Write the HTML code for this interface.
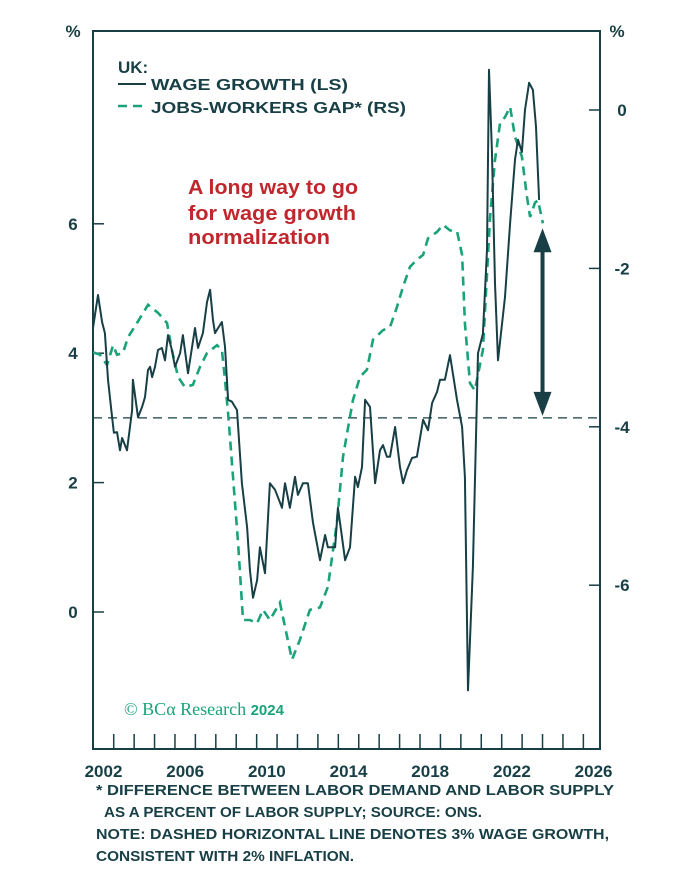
<!DOCTYPE html>
<html><head><meta charset="utf-8"><style>
html,body{margin:0;padding:0;background:#fff;}
svg{display:block;font-family:"Liberation Sans",sans-serif;}
</style></head><body>
<svg id="chart" width="688" height="869" viewBox="0 0 688 869" xmlns="http://www.w3.org/2000/svg">
<g id="axes"></g>
<g id="series"></g>
<g fill="#173f45" font-weight="bold">
 <text x="118" y="73" font-size="17">UK:</text>
 <line x1="118" y1="84" x2="146" y2="84" stroke="#173f45" stroke-width="2"/>
 <text x="151" y="90" font-size="16" textLength="197" lengthAdjust="spacingAndGlyphs">WAGE GROWTH (LS)</text>
 <line x1="118" y1="106" x2="146" y2="106" stroke="#1aa37a" stroke-width="2.5" stroke-dasharray="9,6"/>
 <text x="151" y="113" font-size="16" textLength="255" lengthAdjust="spacingAndGlyphs">JOBS-WORKERS GAP* (RS)</text>
</g>
<g fill="#c0272d" font-size="20" font-weight="bold">
 <text x="188" y="194" textLength="170" lengthAdjust="spacingAndGlyphs">A long way to go</text>
 <text x="188" y="220" textLength="168" lengthAdjust="spacingAndGlyphs">for wage growth</text>
 <text x="188" y="244" textLength="142" lengthAdjust="spacingAndGlyphs">normalization</text>
</g>
<g>
 <text x="124" y="715" font-family="Liberation Serif,serif" font-size="18" fill="#1aa37a">© BCα Research <tspan font-family="Liberation Sans,sans-serif" font-weight="bold" font-size="15">2024</tspan></text>
</g>
<g fill="#173f45" font-size="14.5" font-weight="bold">
 <text x="96" y="795" textLength="518" lengthAdjust="spacingAndGlyphs">* DIFFERENCE BETWEEN LABOR DEMAND AND LABOR SUPPLY</text>
 <text x="104" y="817" textLength="378" lengthAdjust="spacingAndGlyphs">AS A PERCENT OF LABOR SUPPLY; SOURCE: ONS.</text>
 <text x="96" y="839" textLength="513" lengthAdjust="spacingAndGlyphs">NOTE: DASHED HORIZONTAL LINE DENOTES 3% WAGE GROWTH,</text>
 <text x="96" y="861" textLength="258" lengthAdjust="spacingAndGlyphs">CONSISTENT WITH 2% INFLATION.</text>
</g>
</svg>
<script>
const wageDates=[2001.49,2001.73,2001.93,2002.07,2002.22,2002.42,2002.51,2002.66,2002.81,2002.91,2003.15,2003.40,2003.44,2003.69,2003.89,2004.03,2004.18,2004.28,2004.38,2004.52,2004.67,2004.86,2005.01,2005.16,2005.35,2005.50,2005.75,2005.89,2006.14,2006.48,2006.63,2006.87,2007.07,2007.22,2007.36,2007.46,2007.61,2007.80,2007.95,2008.10,2008.29,2008.54,2008.78,2009.03,2009.17,2009.32,2009.52,2009.66,2009.91,2010.15,2010.40,2010.74,2010.89,2011.13,2011.38,2011.52,2011.77,2012.01,2012.26,2012.60,2012.85,2012.99,2013.34,2013.48,2013.63,2013.83,2014.07,2014.32,2014.46,2014.66,2014.81,2015.05,2015.30,2015.54,2015.69,2015.88,2016.03,2016.28,2016.52,2016.67,2016.86,2017.11,2017.35,2017.65,2017.89,2018.09,2018.33,2018.48,2018.72,2018.97,2019.31,2019.56,2019.70,2019.85,2020.09,2020.34,2020.58,2020.78,2020.88,2021.02,2021.17,2021.32,2021.66,2021.91,2022.15,2022.30,2022.49,2022.64,2022.84,2023.03,2023.18,2023.33];
const wageValues=[4.40,4.90,4.48,4.31,3.59,3.01,2.77,2.78,2.50,2.69,2.50,3.12,3.59,3.01,3.17,3.32,3.74,3.79,3.63,3.79,4.05,4.08,3.89,4.28,4.05,3.79,4.00,4.28,3.69,4.39,4.08,4.31,4.79,4.98,4.51,4.31,4.39,4.48,4.10,3.28,3.25,3.12,1.99,1.31,0.65,0.22,0.49,1.00,0.60,1.99,1.89,1.61,1.99,1.61,2.09,1.81,1.99,1.99,1.38,0.80,1.19,1.00,1.00,1.61,1.27,0.80,1.00,2.09,1.93,2.24,3.28,3.17,1.99,2.50,2.58,2.40,2.40,2.86,2.24,1.99,2.19,2.38,2.40,2.97,2.81,3.23,3.40,3.59,3.59,3.97,3.28,2.86,2.09,-1.21,0.70,4.00,4.30,5.60,8.38,7.14,5.08,3.89,4.87,6.01,6.99,7.30,7.11,7.76,8.18,8.07,7.50,6.37];
const gapDates=[2001.49,2001.83,2002.17,2002.47,2002.66,2002.95,2003.20,2003.64,2004.18,2004.67,2005.11,2005.35,2005.65,2005.99,2006.38,2006.73,2007.07,2007.56,2007.80,2007.95,2008.10,2008.34,2008.59,2008.83,2009.17,2009.52,2009.81,2010.15,2010.64,2010.99,2011.23,2011.62,2012.11,2012.60,2012.99,2013.43,2013.73,2014.07,2014.22,2014.56,2014.90,2015.20,2015.69,2016.03,2016.37,2016.67,2017.01,2017.35,2017.65,2017.89,2018.33,2018.63,2018.97,2019.31,2019.56,2019.70,2019.95,2020.19,2020.58,2020.93,2021.17,2021.42,2021.66,2021.91,2022.15,2022.49,2022.74,2022.89,2023.13,2023.28,2023.52];
const gapValues=[-3.06,-3.09,-3.22,-2.97,-3.09,-3.07,-2.87,-2.69,-2.46,-2.56,-2.69,-3.03,-3.37,-3.50,-3.47,-3.24,-3.07,-2.97,-3.03,-3.41,-3.83,-4.63,-5.47,-6.44,-6.44,-6.48,-6.31,-6.44,-6.22,-6.65,-6.94,-6.69,-6.31,-6.28,-6.02,-5.21,-4.38,-3.87,-3.66,-3.37,-3.28,-2.90,-2.78,-2.74,-2.49,-2.23,-1.98,-1.89,-1.83,-1.62,-1.54,-1.45,-1.52,-1.53,-1.83,-2.69,-3.45,-3.54,-3.03,-1.35,-0.63,-0.16,-0.09,0.04,-0.34,-0.59,-1.10,-1.35,-1.17,-1.14,-1.43];
const xTickLabels=[2002,2006,2010,2014,2018,2022,2026];
const leftTicks=[0,2,4,6];
const rightTicks=[0,-2,-4,-6];
const refWage=3;

const NS="http://www.w3.org/2000/svg";
const L=93,R=600,T=31,B=749;
const x=t=>103.5+(t-2002)*20.42;
const yL=v=>612-v*64.7;
const yR=v=>110-v*79.2;
const C="#173f45";
function mk(tag,attrs,parent){const e=document.createElementNS(NS,tag);for(const k in attrs)e.setAttribute(k,attrs[k]);parent.appendChild(e);return e;}
const ax=document.getElementById('axes'),se=document.getElementById('series');

const frame=mk('rect',{x:L,y:T,width:R-L,height:B-T,fill:'none',stroke:C,'stroke-width':2},ax);


for(let yr=2002;yr<=2025;yr++){
 const tk=mk('line',{x1:x(yr+0.5),x2:x(yr+0.5),y1:B,y2:B-15,stroke:C,'stroke-width':1.5},ax);
 
 
}
xTickLabels.forEach(yr=>{
 const t=mk('text',{x:x(yr),y:777,'text-anchor':'middle','font-size':17,'font-weight':'bold',fill:C},ax);
 t.textContent=yr;
 
 
});
leftTicks.forEach(v=>{
 const tk=mk('line',{x1:L,x2:L+11,y1:yL(v),y2:yL(v),stroke:C,'stroke-width':1.5},ax);
 
 
 const t=mk('text',{x:73,y:yL(v)+6,'text-anchor':'middle','font-size':17,'font-weight':'bold',fill:C},ax);
 t.textContent=v;
 
 
});
rightTicks.forEach(v=>{
 const tk=mk('line',{x1:R-11,x2:R,y1:yR(v),y2:yR(v),stroke:C,'stroke-width':1.5},ax);
 
 
 const t=mk('text',{x:622,y:yR(v)+6,'text-anchor':'middle','font-size':17,'font-weight':'bold',fill:C},ax);
 t.textContent=v===0?'0':'-'+Math.abs(v);
 
 
});
[[73,'left-y-unit'],[617,'right-y-unit']].forEach(([px,n])=>{
 const t=mk('text',{x:px,y:37,'text-anchor':'middle','font-size':17,'font-weight':'bold',fill:C},ax);
 t.textContent='%';
 
 
});
const ref=mk('line',{x1:L,x2:R,y1:yL(refWage),y2:yL(refWage),stroke:C,'stroke-width':1.2,'stroke-dasharray':'9,6'},ax);



const gp=mk('polyline',{points:gapDates.map((d,i)=>x(d).toFixed(1)+','+yR(gapValues[i]).toFixed(1)).join(' '),fill:'none',stroke:'#1aa37a','stroke-width':2.6,'stroke-dasharray':'9,6'},se);


const wp=mk('polyline',{points:wageDates.map((d,i)=>x(d).toFixed(1)+','+yL(wageValues[i]).toFixed(1)).join(' '),fill:'none',stroke:C,'stroke-width':2,'stroke-linejoin':'round'},se);



const arrX=x(2023.5),arrTop=yR(gapValues[gapValues.length-1])+5,arrBot=yL(refWage)-2;
const arr=mk('g',{},se);


mk('line',{x1:arrX,x2:arrX,y1:arrTop+20,y2:arrBot-20,stroke:C,'stroke-width':4},arr);
mk('polygon',{points:`${arrX},${arrTop} ${arrX-9},${arrTop+24} ${arrX+9},${arrTop+24}`,fill:C},arr);
mk('polygon',{points:`${arrX},${arrBot} ${arrX-9},${arrBot-24} ${arrX+9},${arrBot-24}`,fill:C},arr);
</script>
</body></html>
